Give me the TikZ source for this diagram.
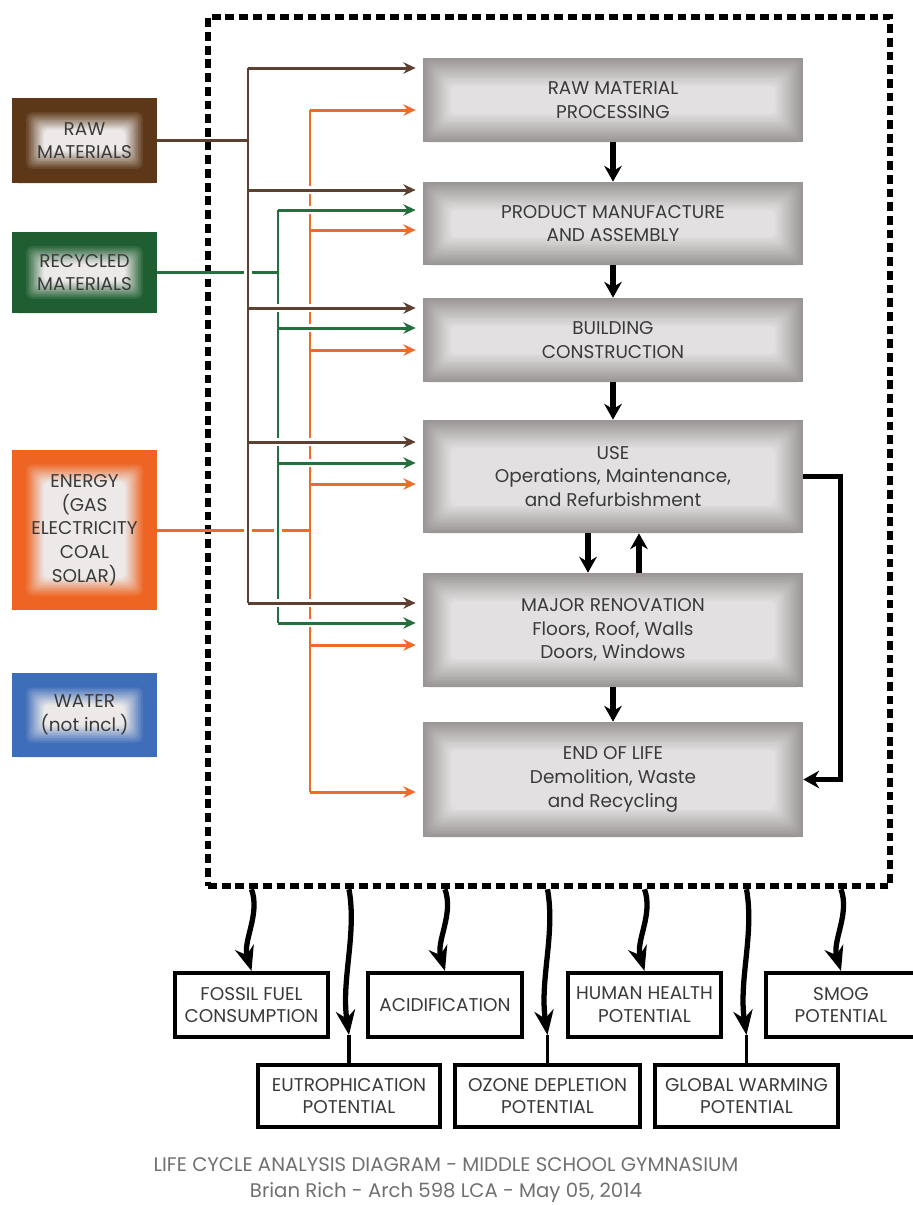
\documentclass[tikz,border=0pt]{standalone}
\usepackage{fontspec}
\setmainfont{Poppins}
\usetikzlibrary{arrows.meta,calc}

\definecolor{rawbrown}{HTML}{5C3818}
\definecolor{recgreen}{HTML}{1E5E30}
\definecolor{nrgorange}{HTML}{EE6422}
\definecolor{waterblue}{HTML}{3E6DBA}
\definecolor{boxedge}{HTML}{9A9696}
\definecolor{boxmid}{HTML}{E2E0E0}
\definecolor{srcmid}{HTML}{ECE9E8}
\definecolor{txtgray}{HTML}{3A3A3A}
\definecolor{footgray}{HTML}{707070}
\definecolor{brownln}{HTML}{5E4030}
\definecolor{greenln}{HTML}{23703E}
\definecolor{orangeln}{HTML}{F06A2A}

\tikzset{
  glow/.style n args={4}{fill=#1, path picture={
      \foreach \k in {0,...,20}{
        \pgfmathtruncatemacro\mix{min(100,max(0,100-(\k-#3)*100/(20-#3)))}
        \fill[#1!\mix!#2, rounded corners=3pt]
          ([shift={(\k*#4,-\k*#4)}]path picture bounding box.north west) rectangle
          ([shift={(-\k*#4,\k*#4)}]path picture bounding box.south east);
      }}},
  stage/.style={glow={boxedge}{boxmid}{0}{0.8pt}, minimum width=7.6cm,
    text=txtgray, align=center, font=\fontsize{10.5}{13.5}\selectfont},
  source/.style={glow={#1}{srcmid}{8}{0.9pt}, minimum width=2.9cm,
    text=txtgray, align=center, font=\fontsize{10.5}{13.5}\selectfont},
  effect/.style={draw, line width=2.3pt, fill=white, text=txtgray,
    align=center, inner sep=0pt, font=\fontsize{10.5}{13}\selectfont},
  sysframe/.style={draw, line width=3.8pt, dash pattern=on 5pt off 2.8pt},
  flow/.style={line width=3.2pt, -{Stealth[length=9pt,width=10pt]}},
  hit/.style={line width=3pt, -{Stealth[length=14pt,width=11pt]}},
  wire/.style={line width=1.7pt},
  feed/.style={wire, -{Stealth[length=7pt,width=6.5pt]}, shorten >=4pt},
  hop/.style={preaction={draw=white, line width=4.5pt, shorten <=3pt, -}},
}

\begin{document}
\begin{tikzpicture}[x=0.02cm, y=-0.02cm]
  \useasboundingbox (0,0) rectangle (913,1205);

  % system boundary
  \node[sysframe, minimum width=13.64cm, minimum height=17.38cm] (sys) at (549,451.5) {};

  % life cycle stages
  \node[stage, minimum height=1.68cm] (rmp) at (613,100) {RAW MATERIAL\\PROCESSING};
  \node[stage, minimum height=1.66cm] (pma) at (613,223.5) {PRODUCT MANUFACTURE\\AND ASSEMBLY};
  \node[stage, minimum height=1.68cm] (bc) at (613,340) {BUILDING\\CONSTRUCTION};
  \node[stage, minimum height=2.26cm] (use) at (613,476.5) {USE\\Operations, Maintenance,\\and Refurbishment};
  \node[stage, minimum height=2.28cm] (mr) at (613,630) {MAJOR RENOVATION\\Floors, Roof, Walls\\Doors, Windows};
  \node[stage, minimum height=2.3cm] (eol) at (613,779.5) {END OF LIFE\\Demolition, Waste\\and Recycling};

  % inputs
  \node[source=rawbrown, minimum height=1.7cm] (raw) at (84.5,140.5) {RAW\\MATERIALS};
  \node[source=recgreen, minimum height=1.62cm] (rec) at (84.5,272.5) {RECYCLED\\MATERIALS};
  \node[source=nrgorange, minimum height=3.2cm] (nrg) at (84.5,530) {ENERGY\\(GAS\\ELECTRICITY\\COAL\\SOLAR)};
  \node[source=waterblue, minimum height=1.68cm] (water) at (84.5,715) {WATER\\(not incl.)};

  % impacts
  \node[effect, minimum width=3.06cm, minimum height=1.28cm] (fossil) at (251.5,1005) {FOSSIL FUEL\\CONSUMPTION};
  \node[effect, minimum width=3.08cm, minimum height=1.28cm] (acid) at (445,1005) {ACIDIFICATION};
  \node[effect, minimum width=3.06cm, minimum height=1.28cm] (human) at (644.5,1005) {HUMAN HEALTH\\POTENTIAL};
  \node[effect, minimum width=3cm, minimum height=1.28cm] (smog) at (841,1005) {SMOG\\POTENTIAL};
  \node[effect, minimum width=3.64cm, minimum height=1.24cm] (eutro) at (349,1096) {EUTROPHICATION\\POTENTIAL};
  \node[effect, minimum width=3.7cm, minimum height=1.24cm] (ozone) at (547.5,1096) {OZONE DEPLETION\\POTENTIAL};
  \node[effect, minimum width=3.66cm, minimum height=1.24cm] (global) at (746.5,1096) {GLOBAL WARMING\\POTENTIAL};

  \node[text=footgray, align=center, font=\fontsize{11.2}{14.7}\selectfont] (title) at (446,1180)
    {LIFE CYCLE ANALYSIS DIAGRAM - MIDDLE SCHOOL GYMNASIUM\\Brian Rich - Arch 598 LCA - May 05, 2014};

  % stage flow
  \draw[flow] (rmp) -- (pma);
  \draw[flow] (pma) -- (bc);
  \draw[flow] (bc) -- (use);
  \draw[flow] ($(use.south)+(-25,0)$) -- ($(mr.north)+(-25,0)$);
  \draw[flow] ($(mr.north)+(26,0)$) -- ($(use.south)+(26,0)$);
  \draw[flow] (mr) -- (eol);
  \draw[flow] (use.east) -- ++(37,0) |- (eol.east);

  % input trunks
  \coordinate (braw) at (248,0);
  \coordinate (brec) at (278,0);
  \coordinate (bnrg) at (310,0);

  \draw[wire, orangeln] (nrg.east) -- (nrg.east -| bnrg);
  \draw[wire, orangeln] ($(bnrg)+(0,110)$) -- ($(bnrg)+(0,792)$);
  \draw[wire, greenln, hop] ($(brec)+(0,210)$) -- ($(brec)+(0,623)$);
  \draw[wire, greenln] (rec.east) -- (rec.east -| brec);
  \draw[wire, brownln, hop] ($(braw)+(0,68)$) -- ($(braw)+(0,603)$);
  \draw[wire, brownln] (raw.east) -- (raw.east -| braw);

  \foreach \s/\y in {pma/210, bc/328, use/463, mr/623}{
    \coordinate (p) at ($(brec)+(0,\y)$);
    \draw[feed, greenln, hop] (p) -- (p -| \s.west);
  }
  \foreach \s/\y in {rmp/68, pma/190, bc/308, use/442, mr/603}{
    \coordinate (p) at ($(braw)+(0,\y)$);
    \draw[feed, brownln, hop] (p) -- (p -| \s.west);
  }
  \foreach \s/\y in {rmp/110, pma/230, bc/350, use/484, mr/645, eol/792}{
    \coordinate (p) at ($(bnrg)+(0,\y)$);
    \draw[feed, orangeln] (p) -- (p -| \s.west);
  }

  % outputs
  \foreach \e in {fossil, acid, human, smog}
    \draw[hit] (sys.south -| \e.north) .. controls +(9,25) and +(-9,-30) .. (\e.north);
  \foreach \e in {eutro, ozone, global}{
    \coordinate (tip) at ($(\e.north)+(0,-28)$);
    \draw[hit] (sys.south -| \e.north) .. controls +(8,45) and +(-8,-55) .. (tip);
    \draw[line width=2.2pt] (tip) -- (\e.north);
  }
\end{tikzpicture}
\end{document}
